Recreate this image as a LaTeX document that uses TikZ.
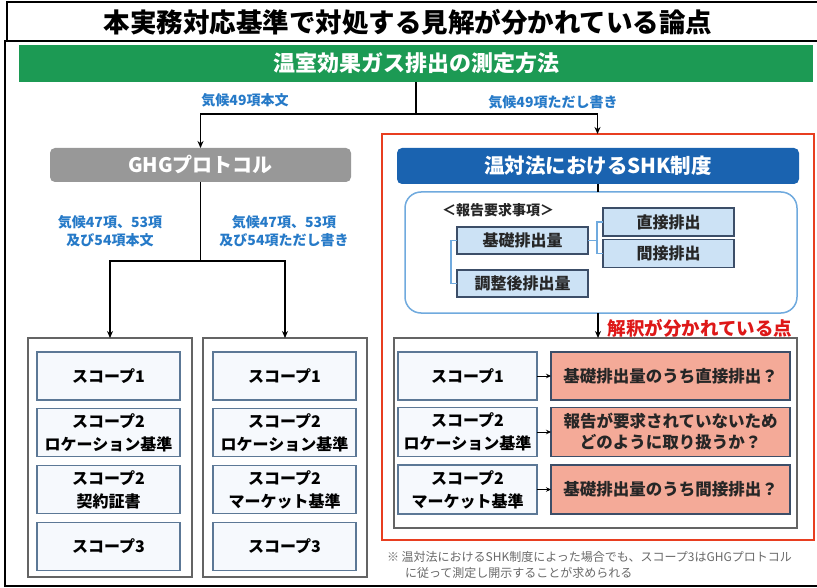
\documentclass[tikz,border=0pt]{standalone}
\usepackage{fontspec}
\setmainfont{Noto Sans CJK JP}
\usetikzlibrary{arrows.meta,calc}
\definecolor{ghgreen}{RGB}{28,154,84}
\definecolor{ghggray}{RGB}{152,152,152}
\definecolor{lblblue}{RGB}{38,122,200}
\definecolor{shkblue}{RGB}{26,99,176}
\definecolor{framered}{RGB}{232,62,32}
\definecolor{txtred}{RGB}{222,24,24}
\definecolor{salmonf}{RGB}{244,170,152}
\definecolor{itemfill}{RGB}{204,226,245}
\definecolor{itemborder}{RGB}{60,78,104}
\definecolor{rboxblue}{RGB}{112,170,222}
\definecolor{scopefill}{RGB}{246,249,253}
\definecolor{scopeborder}{RGB}{92,120,150}
\definecolor{boxgray}{RGB}{100,100,100}
\definecolor{notegray}{RGB}{105,105,105}
\newcommand{\fsz}[2]{\fontsize{#1}{#2}\selectfont}
\begin{document}
\begin{tikzpicture}[x=1pt,y=-1pt,
  every node/.style={inner sep=0pt,outer sep=0pt},
  conn/.style={line width=1.4pt},
  arr/.style={line width=1.4pt,-{Stealth[length=7pt,width=6pt]}},
  arrsmall/.style={line width=1pt,-{Stealth[length=5pt,width=4.5pt]}},
  greenbar/.style={fill=ghgreen,text=white,font=\fsz{22}{26}\bfseries},
  bluelbl/.style={text=lblblue,font=\fsz{14}{18}\bfseries,align=center},
  ghgbox/.style={fill=ghggray,rounded corners=5pt,text=white,font=\fsz{20}{24}\bfseries},
  outerbox/.style={draw=boxgray,line width=1.5pt,fill=white},
  scopebox/.style={draw=scopeborder,fill=scopefill,line width=1.2pt,font=\fsz{16}{23}\bfseries,align=center,text=black},
  redframe/.style={draw=framered,line width=2pt},
  shkhead/.style={fill=shkblue,rounded corners=5pt,text=white,font=\fsz{20.5}{24}\bfseries},
  rbox/.style={draw=rboxblue,line width=1.5pt,rounded corners=16pt,fill=white},
  itembox/.style={draw=itemborder,fill=itemfill,line width=1.2pt,font=\fsz{16}{20}\bfseries,text={black!85}},
  bracket/.style={draw=rboxblue,line width=1.2pt},
  salmon/.style={draw=itemborder,fill=salmonf,line width=1.2pt,font=\fsz{16.5}{21}\bfseries,align=center,text={black!85}},
  note/.style={text=notegray,font=\fsz{12}{15}},
]
\useasboundingbox (0,0) rectangle (817,588);
\fill[white] (0,0) rectangle (817,588);
% title frame
\node[draw=black,line width=2.5pt,minimum width=812pt,minimum height=39pt] (titlebox) at (413,21.5) {};
\node[font=\fsz{26.5}{30}\bfseries] (title) at (408,22) {本実務対応基準で対処する見解が分かれている論点};
\draw[line width=2.5pt] (818,41) -- (5,41) -- (5,586) -- (818,586);
% green bar
\node[greenbar,minimum width=794pt,minimum height=37pt] (green) at (416,63.5) {温室効果ガス排出の測定方法};
\coordinate (j1) at (416,114);
\draw[conn] (green.south) -- (j1);
% GHG
\node[ghgbox,minimum width=301pt,minimum height=34pt] (ghg) at (200.5,165) {GHGプロトコル};
% red frame
\node[redframe,minimum width=432pt,minimum height=406pt] (red) at (597.5,337) {};
\draw[arr] (j1) -| (ghg.north);
\draw[arr] (j1) -| (red.north);
\node[bluelbl] (l49a) at (245,100) {気候49項本文};
\node[bluelbl] (l49b) at (553,102) {気候49項ただし書き};
% GHG children
\node[outerbox,minimum width=164pt,minimum height=239pt] (colA) at (110,457.5) {};
\node[outerbox,minimum width=164pt,minimum height=239pt] (colB) at (285,457.5) {};
\coordinate (j2) at (200.5,261);
\draw[conn] (ghg.south) -- (j2);
\draw[arr] (j2) -| (colA.north);
\draw[arr] (j2) -| (colB.north);
\node[bluelbl] (l47a) at (110,231) {気候47項、53項\\及び54項本文};
\node[bluelbl] (l47b) at (284,231) {気候47項、53項\\及び54項ただし書き};
% scope boxes col A
\node[scopebox,minimum width=143pt,minimum height=48pt] (a1) at (108.5,376) {スコープ1};
\node[scopebox,minimum width=143pt,minimum height=48pt] (a2) at (108.5,432.5) {スコープ2\\ロケーション基準};
\node[scopebox,minimum width=143pt,minimum height=48pt] (a3) at (108.5,489.5) {スコープ2\\契約証書};
\node[scopebox,minimum width=143pt,minimum height=48pt] (a4) at (108.5,546.5) {スコープ3};
% scope boxes col B
\node[scopebox,minimum width=143pt,minimum height=48pt] (b1) at (284.5,376) {スコープ1};
\node[scopebox,minimum width=143pt,minimum height=48pt] (b2) at (284.5,432.5) {スコープ2\\ロケーション基準};
\node[scopebox,minimum width=143pt,minimum height=48pt] (b3) at (284.5,489.5) {スコープ2\\マーケット基準};
\node[scopebox,minimum width=143pt,minimum height=48pt] (b4) at (284.5,546.5) {スコープ3};
% SHK
\node[shkhead,minimum width=402pt,minimum height=36pt] (shk) at (598,166) {温対法におけるSHK制度};
\node[rbox,minimum width=392pt,minimum height=121pt] (req) at (601,252.5) {};
\draw[conn] (shk.south) -- (shk.south |- req.north);
\node[font=\fsz{14}{18}\bfseries,text={black!85}] (reqlbl) at (498,210) {＜報告要求事項＞};
\node[itembox,minimum width=131pt,minimum height=27pt] (kiso) at (522.5,240.5) {基礎排出量};
\node[itembox,minimum width=131pt,minimum height=27pt] (chosei) at (522.5,283.5) {調整後排出量};
\node[itembox,minimum width=131pt,minimum height=28pt] (choku) at (668.5,222) {直接排出};
\node[itembox,minimum width=131pt,minimum height=28pt] (kan) at (668.5,253.5) {間接排出};
\coordinate (bl) at (451,240.5);
\draw[bracket] (kiso.west) -- (bl) -- (bl |- chosei.west) -- (chosei.west);
\coordinate (br) at (597,240.5);
\draw[bracket] (kiso.east) -- (br);
\draw[bracket] (choku.west) -| (br) |- (kan.west);
% interpretation box
\node[outerbox,minimum width=403pt,minimum height=190pt] (interp) at (595.5,433) {};
\draw[arr] (req.south -| shk.south) -- (shk.south |- interp.north);
\node[text=txtred,font=\fsz{18.5}{22}\bfseries] (diff) at (700,328) {解釈が分かれている点};
\node[scopebox,minimum width=139pt,minimum height=48pt] (c1) at (467.5,376) {スコープ1};
\node[scopebox,minimum width=139pt,minimum height=49pt] (c2) at (467.5,432) {スコープ2\\ロケーション基準};
\node[scopebox,minimum width=139pt,minimum height=49pt] (c3) at (467.5,489.5) {スコープ2\\マーケット基準};
\node[salmon,minimum width=239pt,minimum height=48pt] (p1) at (670.5,376) {基礎排出量のうち直接排出？};
\node[salmon,minimum width=239pt,minimum height=49pt] (p2) at (670.5,432) {報告が要求されていないため\\どのように取り扱うか？};
\node[salmon,minimum width=239pt,minimum height=49pt] (p3) at (670.5,489.5) {基礎排出量のうち間接排出？};
\draw[arrsmall] (c1.east) -- (p1.west);
\draw[arrsmall] (c2.east) -- (p2.west);
\draw[arrsmall] (c3.east) -- (p3.west);
% footnote
\node[note,anchor=west] (n1) at (387,557) {※ 温対法におけるSHK制度によった場合でも、スコープ3はGHGプロトコル};
\node[note,anchor=west] (n2) at (405,573) {に従って測定し開示することが求められる};
\end{tikzpicture}
\end{document}
